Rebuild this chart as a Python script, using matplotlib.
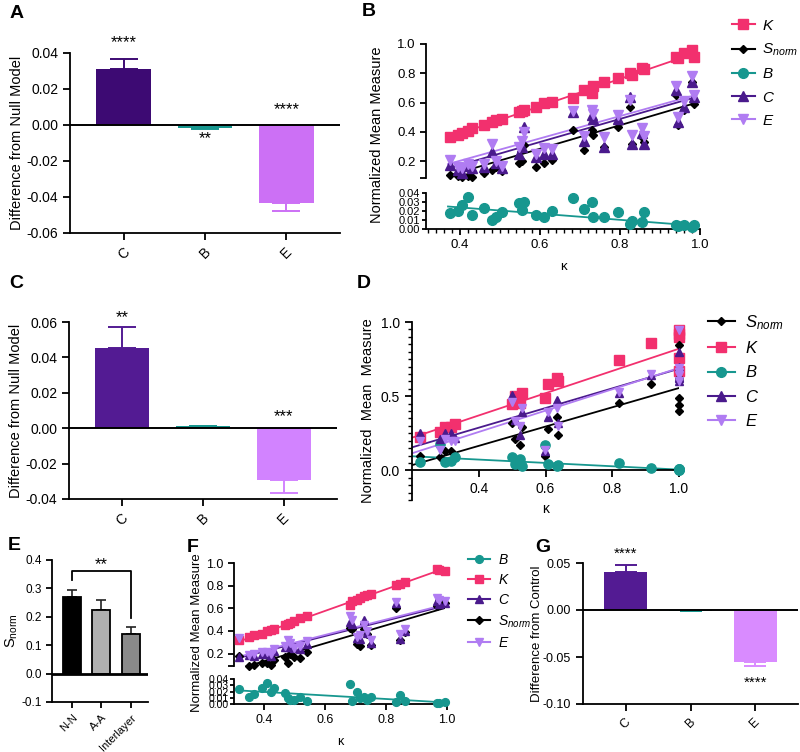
import numpy as np
import matplotlib
matplotlib.use('Agg')
import matplotlib.pyplot as plt
from matplotlib.lines import Line2D
from matplotlib.ticker import MultipleLocator

plt.rcParams['font.family'] = ['Liberation Sans', 'DejaVu Sans']
plt.rcParams['mathtext.fontset'] = 'custom'
plt.rcParams['mathtext.it'] = 'Liberation Sans:italic'
plt.rcParams['mathtext.rm'] = 'Liberation Sans'
plt.rcParams['axes.linewidth'] = 1.3
plt.rcParams['xtick.major.width'] = 1.3
plt.rcParams['ytick.major.width'] = 1.3
plt.rcParams['xtick.minor.width'] = 1.0
plt.rcParams['ytick.minor.width'] = 1.0

# ---- bar panels (A, C, G) ----
bar_labels = ['C', 'B', 'E']
a_vals = [0.031, -0.0015, -0.0435]
a_errs = [0.0055, 0.0005, 0.0045]
c_vals = [0.0453, 0.001, -0.0295]
c_errs = [0.0117, 0.0003, 0.0072]
g_vals = [0.0404, -0.001, -0.055]
g_errs = [0.0078, 0.0002, 0.0045]

# ---- panel E ----
e_labels = ['N-N', 'A-A', 'Interlayer']
e_vals = [0.268, 0.224, 0.140]
e_errs = [0.028, 0.034, 0.023]

# ---- panel B (broken axis scatter) ----
b_kappa = [0.375, 0.395, 0.405, 0.42, 0.43, 0.46, 0.48, 0.49, 0.505, 0.548,
           0.555, 0.56, 0.59, 0.61, 0.63, 0.683, 0.71, 0.73, 0.733, 0.76,
           0.795, 0.825, 0.83, 0.855, 0.86, 0.94, 0.945, 0.96, 0.98, 0.985]
b_K = [0.364, 0.38, 0.39, 0.405, 0.425, 0.445, 0.467, 0.48, 0.49, 0.535,
       0.54, 0.55, 0.57, 0.597, 0.605, 0.63, 0.686, 0.667, 0.713, 0.74,
       0.77, 0.80, 0.79, 0.836, 0.83, 0.91, 0.905, 0.94, 0.96, 0.91]
b_S = [0.104, 0.10, 0.09, 0.10, 0.09, 0.117, 0.14, 0.16, 0.13, 0.185,
       0.20, 0.31, 0.16, 0.185, 0.21, 0.41, 0.275, 0.41, 0.38, 0.30,
       0.435, 0.57, 0.32, 0.365, 0.33, 0.65, 0.45, 0.55, 0.74, 0.59]
b_C = [0.173, 0.14, 0.118, 0.17, 0.15, 0.16, 0.26, 0.185, 0.15, 0.25,
       0.30, 0.435, 0.23, 0.25, 0.25, 0.535, 0.34, 0.515, 0.49, 0.30,
       0.49, 0.64, 0.32, 0.39, 0.32, 0.686, 0.47, 0.57, 0.74, 0.64]
b_E = [0.21, 0.16, 0.15, 0.18, 0.17, 0.18, 0.32, 0.20, 0.17, 0.30,
       0.34, 0.40, 0.25, 0.29, 0.28, 0.54, 0.37, 0.55, 0.52, 0.365,
       0.515, 0.62, 0.38, 0.425, 0.37, 0.71, 0.50, 0.61, 0.78, 0.65]
b_B = [0.0178, 0.02, 0.027, 0.036, 0.016, 0.023, 0.01, 0.013, 0.019, 0.029,
       0.021, 0.03, 0.016, 0.013, 0.02, 0.034, 0.022, 0.03, 0.013, 0.013,
       0.019, 0.006, 0.009, 0.008, 0.019, 0.0044, 0.003, 0.004, 0.002, 0.004]
b_fit_x = [0.37, 0.98]
b_fits = {'K': (0.36, 0.93), 'S': (0.10, 0.59), 'C': (0.15, 0.63),
          'E': (0.18, 0.645), 'B': (0.025, 0.004)}

# ---- panel D ----
d_kappa = [0.223, 0.283, 0.30, 0.316, 0.33, 0.50, 0.51, 0.523, 0.53, 0.598,
           0.607, 0.633, 0.637, 0.82, 0.917, 1.0, 1.0, 1.0, 1.0, 1.0]
d_K = [0.228, 0.26, 0.295, 0.295, 0.31, 0.45, 0.50, 0.455, 0.52, 0.49,
       0.585, 0.625, 0.60, 0.745, 0.86, 0.945, 0.92, 0.90, 0.76, 0.67]
d_S = [0.095, 0.087, 0.13, 0.13, 0.093, 0.32, 0.21, 0.17, 0.29, 0.095,
       0.28, 0.36, 0.235, 0.455, 0.58, 0.845, 0.625, 0.49, 0.44, 0.40]
d_C = [0.255, 0.21, 0.25, 0.25, 0.22, 0.51, 0.34, 0.24, 0.395, 0.13,
       0.36, 0.475, 0.32, 0.52, 0.64, 0.80, 0.70, 0.63, 0.60, 0.62]
d_E = [0.195, 0.14, 0.21, 0.195, 0.20, 0.46, 0.33, 0.30, 0.42, 0.14,
       0.395, 0.42, 0.30, 0.53, 0.65, 0.945, 0.69, 0.66, 0.60, 0.64]
d_B = [0.054, 0.175, 0.055, 0.06, 0.09, 0.087, 0.04, 0.074, 0.027, 0.168,
       0.04, 0.027, 0.035, 0.047, 0.013, 0.007, 0.005, 0.006, 0.004, 0.007]
d_fit_x = [0.2, 1.0]
d_fits = {'K': (0.22, 0.82), 'S': (0.035, 0.555), 'C': (0.155, 0.685),
          'E': (0.115, 0.69), 'B': (0.095, 0.005)}

# ---- panel F (broken axis scatter) ----
f_kappa = [0.318, 0.348, 0.367, 0.393, 0.41, 0.42, 0.43, 0.469, 0.478, 0.485,
           0.496, 0.518, 0.541, 0.682, 0.688, 0.704, 0.715, 0.728, 0.737, 0.75,
           0.832, 0.845, 0.862, 0.966, 0.975, 0.994]
f_K = [0.32, 0.345, 0.36, 0.375, 0.40, 0.41, 0.42, 0.455, 0.465, 0.47,
       0.485, 0.51, 0.535, 0.63, 0.665, 0.675, 0.695, 0.705, 0.715, 0.73,
       0.81, 0.815, 0.83, 0.945, 0.94, 0.93]
f_C = [0.17, 0.185, 0.18, 0.20, 0.195, 0.175, 0.22, 0.26, 0.255, 0.27,
       0.245, 0.24, 0.28, 0.48, 0.46, 0.335, 0.33, 0.50, 0.38, 0.29,
       0.645, 0.33, 0.40, 0.66, 0.64, 0.65]
f_E = [0.335, 0.19, 0.20, 0.21, 0.21, 0.20, 0.24, 0.27, 0.32, 0.29,
       0.25, 0.27, 0.31, 0.53, 0.50, 0.35, 0.36, 0.45, 0.40, 0.32,
       0.655, 0.37, 0.42, 0.69, 0.67, 0.66]
f_S = [0.175, 0.09, 0.095, 0.115, 0.12, 0.10, 0.14, 0.17, 0.12, 0.195,
       0.17, 0.165, 0.21, 0.43, 0.42, 0.28, 0.265, 0.42, 0.37, 0.275,
       0.60, 0.32, 0.39, 0.62, 0.67, 0.65]
f_B = [0.024, 0.012, 0.016, 0.025, 0.033, 0.02, 0.025, 0.018, 0.0095, 0.007,
       0.007, 0.012, 0.005, 0.0315, 0.005, 0.02, 0.0095, 0.012, 0.007, 0.0105,
       0.003, 0.015, 0.005, 0.0015, 0.002, 0.0026]
f_fit_x = [0.32, 0.99]
f_fits = {'K': (0.31, 0.95), 'S': (0.07, 0.60), 'C': (0.165, 0.62),
          'E': (0.175, 0.63), 'B': (0.0216, 0.0026)}

PINK = '#F2306E'
TEAL = '#17978F'
DPURP = '#4A1A8C'
LPURP = '#B07CF2'
BLACK = '#000000'

LABELS = {'K': '$K$', 'S': '$S_{norm}$', 'B': '$B$', 'C': '$C$', 'E': '$E$'}

W, H = 800, 752


def box(fig, x0, y0, x1, y1):
    return fig.add_axes([x0 / W, 1 - y1 / H, (x1 - x0) / W, (y1 - y0) / H])


def clean(ax):
    ax.spines['top'].set_visible(False)
    ax.spines['right'].set_visible(False)


def bar_panel(ax, vals, errs, colors, ylim, yticks, capsize, fs):
    x = np.arange(len(vals))
    ax.bar(x, vals, width=0.67, color=colors, zorder=2)
    for xi, v, e, c in zip(x, vals, errs, colors):
        yerr = [[0], [e]] if v >= 0 else [[e], [0]]
        ax.errorbar(xi, v, yerr=yerr, color=c, capsize=capsize, capthick=1.4,
                    elinewidth=1.4, zorder=1)
    ax.axhline(0, color='black', lw=1.4, zorder=3)
    ax.set_xlim(-0.66, len(vals) - 0.34)
    ax.set_ylim(*ylim)
    ax.set_yticks(yticks)
    ax.set_yticklabels(['%.2f' % t for t in yticks], fontsize=fs)
    ax.set_xticks(x)
    ax.set_xticklabels(bar_labels, rotation=45, fontsize=fs)
    ax.tick_params(length=5)
    clean(ax)


def series_style(name, scale):
    c, m, ms = {'K': (PINK, 's', 7), 'S': (BLACK, 'D', 4.5), 'B': (TEAL, 'o', 7),
                'C': (DPURP, '^', 6.5), 'E': (LPURP, 'v', 6.5)}[name]
    return c, m, ms * scale


def handles(order, scale):
    hs = []
    for n in order:
        c, m, ms = series_style(n, scale)
        hs.append(Line2D([], [], color=c, marker=m, ms=ms, lw=1.5))
    return hs


def broken_panel(fig, x0, x1, top_px, bot_px, kappa, data, fit_x, fits,
                 xlim, top_lo, fs, fs_small, scale, minor):
    ax_t = box(fig, x0, top_px[0], x1, top_px[1])
    ax_b = box(fig, x0, bot_px[0], x1, bot_px[1])
    for name in ['K', 'S', 'B', 'C', 'E']:
        c, m, ms = series_style(name, scale)
        ax = ax_b if name == 'B' else ax_t
        ax.plot(fit_x, fits[name], color=c, lw=1.3, zorder=2)
        ax.plot(kappa, data[name], ls='none', marker=m, ms=ms, color=c,
                clip_on=False, zorder=3)
    for ax in (ax_t, ax_b):
        ax.set_xlim(*xlim)
        clean(ax)
        ax.tick_params(length=4)
    ax_t.spines['bottom'].set_visible(False)
    ax_t.set_xticks([])
    ax_t.set_ylim(top_lo, 1.0)
    ticks = [top_lo, 0.2, 0.4, 0.6, 0.8, 1.0]
    ax_t.set_yticks(ticks)
    ax_t.set_yticklabels([''] + ['%.1f' % t for t in ticks[1:]], fontsize=fs)
    ax_b.set_ylim(0, 0.04)
    bt = [0, 0.01, 0.02, 0.03, 0.04]
    ax_b.set_yticks(bt)
    ax_b.set_yticklabels(['%.2f' % t for t in bt], fontsize=fs_small)
    ax_b.tick_params(axis='y', length=3, pad=1)
    ax_b.set_xticks([0.4, 0.6, 0.8, 1.0])
    ax_b.set_xticklabels(['0.4', '0.6', '0.8', '1.0'], fontsize=fs)
    if minor:
        ax_b.xaxis.set_minor_locator(MultipleLocator(0.02))
        ax_b.tick_params(axis='x', which='minor', length=3)
    ax_b.set_xlabel('κ', fontsize=fs, labelpad=7)
    return ax_t, ax_b


fig = plt.figure(figsize=(8, 7.52), dpi=100)

# panel letters
for t, (x, y) in {'A': (10, 13), 'B': (362, 11), 'C': (9, 283), 'D': (357, 283),
                  'E': (8, 545), 'F': (187, 548), 'G': (535, 548)}.items():
    fig.text(x / W, 1 - y / H, t, fontsize=14, fontweight='bold', va='center', ha='left')

# ---- A ----
axA = box(fig, 70, 53, 340, 233)
bar_panel(axA, a_vals, a_errs, ['#3D0A73', TEAL, '#CC70F5'], (-0.06, 0.04),
          [-0.06, -0.04, -0.02, 0.0, 0.02, 0.04], 10, 10)
axA.set_ylabel('Difference from Null Model', fontsize=10.5, labelpad=2)
axA.text(0, 0.0455, '****', ha='center', va='center', fontsize=12)
axA.text(1, -0.0078, '**', ha='center', va='center', fontsize=12)
axA.text(2, 0.0088, '****', ha='center', va='center', fontsize=12)

# ---- B ----
bdata = {'K': b_K, 'S': b_S, 'B': b_B, 'C': b_C, 'E': b_E}
broken_panel(fig, 426, 700, (44, 178), (193, 229), b_kappa, bdata, b_fit_x, b_fits,
             (0.315, 1.0), 0.085, 9.5, 8, 1.0, True)
fig.text(377 / W, 1 - 135 / H, 'Normalized Mean Measure', rotation=90,
         ha='center', va='center', fontsize=10.5)
orderB = ['K', 'S', 'B', 'C', 'E']
fig.legend(handles(orderB, 1.0), [LABELS[n] for n in orderB], loc='upper left',
           bbox_to_anchor=(718 / W, 1 - 5 / H), frameon=False, fontsize=11,
           handlelength=1.5, handletextpad=0.5, labelspacing=0.6)

# ---- C ----
axC = box(fig, 69, 322, 337, 499)
bar_panel(axC, c_vals, c_errs, ['#531B93', TEAL, '#D283FF'], (-0.04, 0.06),
          [-0.04, -0.02, 0.0, 0.02, 0.04, 0.06], 10, 10)
axC.set_ylabel('Difference from Null Model', fontsize=10.5, labelpad=2)
axC.text(0, 0.0622, '**', ha='center', va='center', fontsize=12)
axC.text(2, 0.0068, '***', ha='center', va='center', fontsize=12)

# ---- D ----
axD = box(fig, 412, 322, 679, 500)
ddata = {'K': d_K, 'S': d_S, 'B': d_B, 'C': d_C, 'E': d_E}
for name in ['K', 'S', 'B', 'C', 'E']:
    c, m, ms = series_style(name, 0.95)
    axD.plot(d_fit_x, d_fits[name], color=c, lw=1.3, zorder=2)
    axD.plot(d_kappa, ddata[name], ls='none', marker=m, ms=ms, color=c,
             clip_on=False, zorder=3)
axD.set_xlim(0.2, 1.0)
axD.set_ylim(-0.2, 1.0)
axD.spines['bottom'].set_position(('data', 0))
clean(axD)
axD.set_xticks([0.4, 0.6, 0.8, 1.0])
axD.set_xticklabels(['0.4', '0.6', '0.8', '1.0'], fontsize=10)
axD.set_yticks([0.0, 0.5, 1.0])
axD.set_yticklabels(['0.0', '0.5', '1.0'], fontsize=10)
axD.yaxis.set_minor_locator(MultipleLocator(0.05))
axD.tick_params(which='major', length=5)
axD.tick_params(axis='y', which='minor', length=3)
axD.set_ylabel('Normalized  Mean  Measure', fontsize=10.5)
axD.set_xlabel('κ', fontsize=10)
orderD = ['S', 'K', 'B', 'C', 'E']
fig.legend(handles(orderD, 1.0), [LABELS[n] for n in orderD], loc='upper left',
           bbox_to_anchor=(693 / W, 1 - 298 / H), frameon=False, fontsize=12,
           handlelength=1.6, handletextpad=0.6, labelspacing=0.5)

# ---- E ----
axE = box(fig, 52, 560, 148, 702)
ex = np.arange(3)
axE.bar(ex, e_vals, width=0.62, color=['#000000', '#B0B0B0', '#8A8A8A'],
        edgecolor='black', lw=1.3, zorder=2)
for xi, v, e in zip(ex, e_vals, e_errs):
    axE.errorbar(xi, v, yerr=[[0], [e]], color='#222222', capsize=3.5,
                 capthick=1.2, elinewidth=1.2, zorder=1)
axE.axhline(0, color='black', lw=2.0, zorder=3)
axE.set_xlim(-0.7, 2.6)
axE.set_ylim(-0.1, 0.4)
axE.set_yticks([-0.1, 0.0, 0.1, 0.2, 0.3, 0.4])
axE.set_yticklabels(['-0.1', '0.0', '0.1', '0.2', '0.3', '0.4'], fontsize=8.5)
axE.set_xticks(ex)
axE.set_xticklabels(e_labels, rotation=45, ha='right', rotation_mode='anchor', fontsize=8)
axE.tick_params(length=4)
clean(axE)
axE.set_ylabel('S$_{\\mathrm{norm}}$', fontsize=10.5, labelpad=1)
axE.plot([0, 0, 2, 2], [0.33, 0.36, 0.36, 0.195], color='black', lw=1.3)
axE.text(1, 0.385, '**', ha='center', va='center', fontsize=12)

# ---- F ----
fdata = {'K': f_K, 'S': f_S, 'B': f_B, 'C': f_C, 'E': f_E}
broken_panel(fig, 234, 447, (563, 666), (679, 704), f_kappa, fdata, f_fit_x, f_fits,
             (0.3, 1.0), 0.09, 9, 7.5, 0.8, False)
fig.text(197 / W, 1 - 633 / H, 'Normalized Mean Measure', rotation=90,
         ha='center', va='center', fontsize=9.5)
orderF = ['B', 'K', 'C', 'S', 'E']
fig.legend(handles(orderF, 0.8), [LABELS[n] for n in orderF], loc='upper left',
           bbox_to_anchor=(455 / W, 1 - 540 / H), frameon=False, fontsize=10,
           handlelength=1.6, handletextpad=0.6, labelspacing=0.45)

# ---- G ----
axG = box(fig, 583, 563, 798, 704)
bar_panel(axG, g_vals, g_errs, ['#531B93', TEAL, '#D98BFF'], (-0.10, 0.05),
          [-0.10, -0.05, 0.0, 0.05], 8, 9)
axG.set_ylabel('Difference from Control', fontsize=9.5, labelpad=0)
axG.text(0, 0.0596, '****', ha='center', va='center', fontsize=11)
axG.text(2, -0.0776, '****', ha='center', va='center', fontsize=11)

fig.savefig('out.png', dpi=100)
